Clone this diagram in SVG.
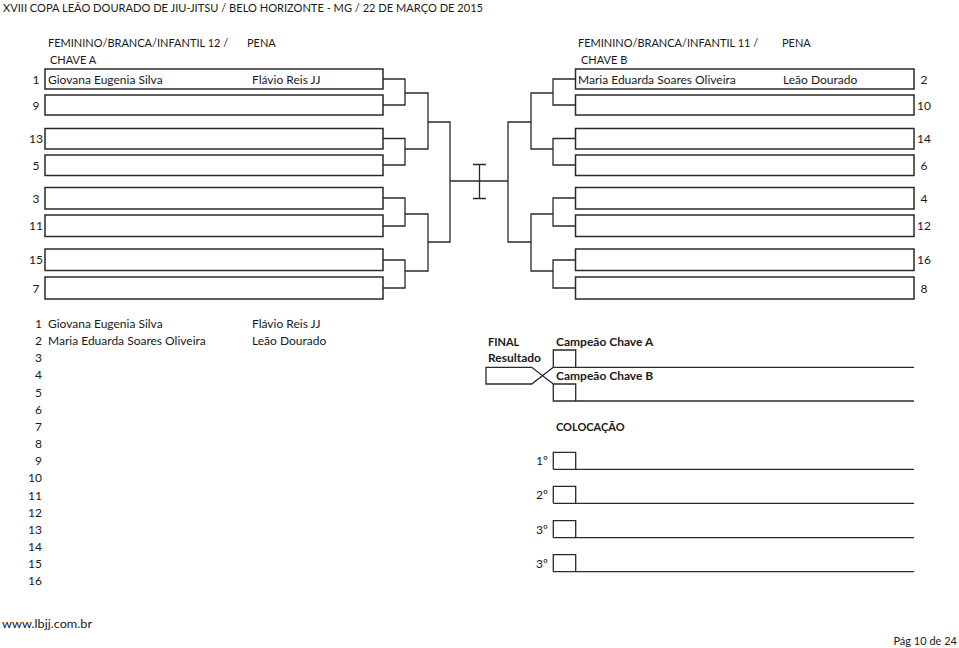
<svg xmlns="http://www.w3.org/2000/svg" width="959" height="648" viewBox="0 0 959 648">
<style>
text{font-family:Lato,"Liberation Sans",sans-serif;font-size:12px;fill:#1a1a1a}
.c{font-size:11px}
.b{font-weight:bold}
.n{text-anchor:middle}
.r{text-anchor:end}
.box{fill:#fff;stroke:#2a2a2a;stroke-width:1.5}
.ln{fill:none;stroke:#2a2a2a;stroke-width:1.3}
</style>
<rect width="959" height="648" fill="#fff"/>
<text class="c" x="3" y="11.5" textLength="480" lengthAdjust="spacingAndGlyphs">XVIII COPA LEÃO DOURADO DE JIU-JITSU / BELO HORIZONTE - MG / 22 DE MARÇO DE 2015</text>
<g id="header-a">
<text class="c" x="48" y="47">FEMININO/BRANCA/INFANTIL 12 /</text>
<text class="c" x="50" y="64">CHAVE A</text>
<text class="c" x="247" y="47">PENA</text>
</g>
<g id="header-b">
<text class="c" x="578" y="47">FEMININO/BRANCA/INFANTIL 11 /</text>
<text class="c" x="581" y="64">CHAVE B</text>
<text class="c" x="782" y="47">PENA</text>
</g>
<g id="left-1"><rect class="box" x="45" y="69" width="338" height="20"/><text class="n" x="36" y="83.5">1</text><text x="48" y="83.5">Giovana Eugenia Silva</text><text x="252" y="83.5">Flávio Reis JJ</text></g>
<g id="left-9"><rect class="box" x="45" y="95" width="338" height="20"/><text class="n" x="36" y="109.5">9</text></g>
<g id="left-13"><rect class="box" x="45" y="128.5" width="338" height="20.5"/><text class="n" x="36" y="143">13</text></g>
<g id="left-5"><rect class="box" x="45" y="155" width="338" height="20.5"/><text class="n" x="36" y="169.5">5</text></g>
<g id="left-3"><rect class="box" x="45" y="187.5" width="338" height="21.5"/><text class="n" x="36" y="202.5">3</text></g>
<g id="left-11"><rect class="box" x="45" y="215" width="338" height="21.5"/><text class="n" x="36" y="230">11</text></g>
<g id="left-15"><rect class="box" x="45" y="249" width="338" height="21.5"/><text class="n" x="36" y="264">15</text></g>
<g id="left-7"><rect class="box" x="45" y="277" width="338" height="22"/><text class="n" x="36" y="292.5">7</text></g>
<g id="right-2"><rect class="box" x="575.5" y="69" width="338.5" height="20"/><text class="n" x="924" y="83.5">2</text><text x="578" y="83.5">Maria Eduarda Soares Oliveira</text><text x="783" y="83.5">Leão Dourado</text></g>
<g id="right-10"><rect class="box" x="575.5" y="95" width="338.5" height="20"/><text class="n" x="924" y="109.5">10</text></g>
<g id="right-14"><rect class="box" x="575.5" y="128.5" width="338.5" height="20.5"/><text class="n" x="924" y="143">14</text></g>
<g id="right-6"><rect class="box" x="575.5" y="155" width="338.5" height="20.5"/><text class="n" x="924" y="169.5">6</text></g>
<g id="right-4"><rect class="box" x="575.5" y="187.5" width="338.5" height="21.5"/><text class="n" x="924" y="202.5">4</text></g>
<g id="right-12"><rect class="box" x="575.5" y="215" width="338.5" height="21.5"/><text class="n" x="924" y="230">12</text></g>
<g id="right-16"><rect class="box" x="575.5" y="249" width="338.5" height="21.5"/><text class="n" x="924" y="264">16</text></g>
<g id="right-8"><rect class="box" x="575.5" y="277" width="338.5" height="22"/><text class="n" x="924" y="292.5">8</text></g>
<g id="connectors" class="ln">
<path class="ln" d="M383 79H405V105H383M383 138.5H405V165H383M383 198H405V226H383M383 260H405V288H383"/>
<path class="ln" d="M405 93H428V149H405M405 214H428V271H405"/>
<path class="ln" d="M428 122H450V242H428M450 181H508"/>
<path class="ln" d="M575.5 79H553V105H575.5M575.5 138.5H553V165H575.5M575.5 198H553V226H575.5M575.5 260H553V288H575.5"/>
<path class="ln" d="M553 93H531V149H553M553 214H531V271H553"/>
<path class="ln" d="M531 122H508V242H531"/>
<path class="ln" d="M479.5 164.5V198.5M473 164.5H486M473 198.5H486"/>
</g>
<g id="list">
<text class="r" x="42" y="328">1</text><text x="48" y="328">Giovana Eugenia Silva</text><text x="252" y="328">Flávio Reis JJ</text>
<text class="r" x="42" y="345.15">2</text><text x="48" y="345.15">Maria Eduarda Soares Oliveira</text><text x="252" y="345.15">Leão Dourado</text>
<text class="r" x="42" y="362.3">3</text>
<text class="r" x="42" y="379.45">4</text>
<text class="r" x="42" y="396.6">5</text>
<text class="r" x="42" y="413.75">6</text>
<text class="r" x="42" y="430.9">7</text>
<text class="r" x="42" y="448.05">8</text>
<text class="r" x="42" y="465.2">9</text>
<text class="r" x="42" y="482.35">10</text>
<text class="r" x="42" y="499.5">11</text>
<text class="r" x="42" y="516.65">12</text>
<text class="r" x="42" y="533.8">13</text>
<text class="r" x="42" y="550.95">14</text>
<text class="r" x="42" y="568.1">15</text>
<text class="r" x="42" y="585.25">16</text>
</g>
<g id="final">
<text class="b c" x="488" y="346">FINAL</text>
<text class="b" x="488" y="362">Resultado</text>
<path class="ln" d="M553.3 384L531.7 367.3H486V384H531.7L553.3 367.3"/>
</g>
<g id="campeao-a">
<text class="b" x="556" y="346">Campeão Chave A</text>
<path class="ln" d="M553.3 367.3V350H575.7V367.3M553.3 367.3H914"/>
</g>
<g id="campeao-b">
<text class="b" x="556" y="380">Campeão Chave B</text>
<path class="ln" d="M553.3 384V401H914M553.3 384H575.7V401"/>
</g>
<g id="colocacao">
<text class="b c" x="556" y="431">COLOCAÇÃO</text>
</g>
<g id="place-1"><text x="536" y="465">1º</text><path class="ln" d="M553.3 469.3V452.3H575.7V469.3M553.3 469.3H914"/></g>
<g id="place-2"><text x="536" y="499">2º</text><path class="ln" d="M553.3 503.3V486.3H575.7V503.3M553.3 503.3H914"/></g>
<g id="place-3a"><text x="536" y="533.5">3º</text><path class="ln" d="M553.3 537.7V520.7H575.7V537.7M553.3 537.7H914"/></g>
<g id="place-3b"><text x="536" y="567.5">3º</text><path class="ln" d="M553.3 571.7V554.7H575.7V571.7M553.3 571.7H914"/></g>
<text x="2" y="628" textLength="90" lengthAdjust="spacingAndGlyphs">www.lbjj.com.br</text>
<text class="r c" x="957" y="645">Pág 10 de 24</text>
</svg>
